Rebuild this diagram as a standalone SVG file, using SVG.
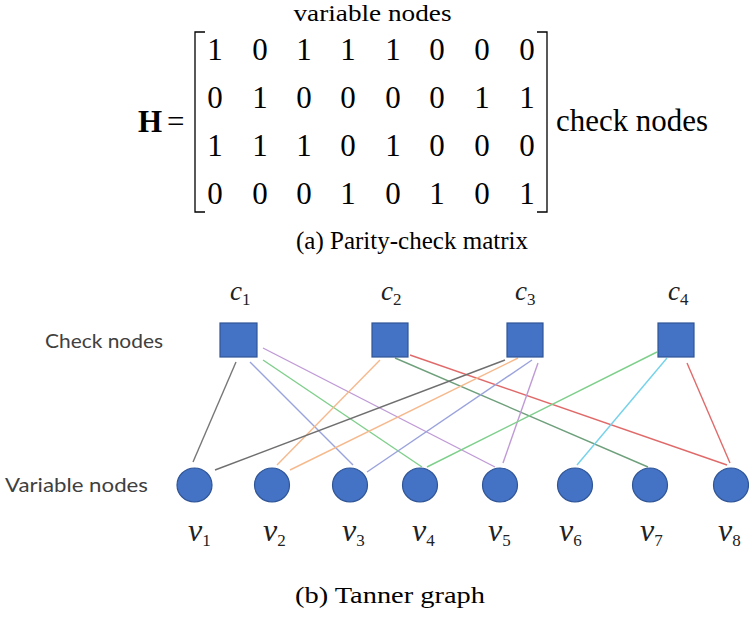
<svg xmlns="http://www.w3.org/2000/svg" width="749" height="619" viewBox="0 0 749 619">
<style>
.m{font-family:"Liberation Serif","Times New Roman",serif;fill:#000}
.d{font-size:31px;text-anchor:middle}
.br{fill:none;stroke:#000;stroke-width:1.3}
.lab{font-family:Lato,"Liberation Sans",sans-serif;font-size:20px;fill:#404040}
.sym{font-family:"Liberation Serif","DejaVu Serif",serif;font-style:italic;fill:#222}
.sub{font-style:normal;font-size:17px}
.cn{fill:#4472C4;stroke:#2F5597;stroke-width:1.2}
.e{stroke-width:1.4;fill:none}
</style>
<g id="matrix">
<text class="m" x="372.5" y="21" font-size="23" text-anchor="middle" textLength="158" lengthAdjust="spacingAndGlyphs">variable nodes</text>
<text class="m" x="138" y="132" font-size="31" font-weight="bold">H</text>
<text class="m" x="167" y="132" font-size="31">=</text>
<path class="br" d="M205,32 H195 V212 H205"/>
<path class="br" d="M537,32 H547 V212 H537"/>
<g class="m d">
<text x="215" y="60">1</text><text x="260" y="60">0</text><text x="304" y="60">1</text><text x="348" y="60">1</text><text x="393" y="60">1</text><text x="437" y="60">0</text><text x="482" y="60">0</text><text x="527" y="60">0</text>
<text x="215" y="108">0</text><text x="260" y="108">1</text><text x="304" y="108">0</text><text x="348" y="108">0</text><text x="393" y="108">0</text><text x="437" y="108">0</text><text x="482" y="108">1</text><text x="527" y="108">1</text>
<text x="215" y="156">1</text><text x="260" y="156">1</text><text x="304" y="156">1</text><text x="348" y="156">0</text><text x="393" y="156">1</text><text x="437" y="156">0</text><text x="482" y="156">0</text><text x="527" y="156">0</text>
<text x="215" y="204">0</text><text x="260" y="204">0</text><text x="304" y="204">0</text><text x="348" y="204">1</text><text x="393" y="204">0</text><text x="437" y="204">1</text><text x="482" y="204">0</text><text x="527" y="204">1</text>
</g>
<text class="m" x="556" y="131" font-size="31" textLength="152" lengthAdjust="spacingAndGlyphs">check nodes</text>
<text class="m" x="412" y="249" font-size="25" text-anchor="middle" textLength="232" lengthAdjust="spacingAndGlyphs">(a) Parity-check matrix</text>
</g>
<text class="lab" x="45" y="348" textLength="118" lengthAdjust="spacingAndGlyphs">Check nodes</text>
<text class="lab" x="5" y="492" textLength="143" lengthAdjust="spacingAndGlyphs">Variable nodes</text>
<g id="connectors">
<line class="e" stroke="#777777" x1="236" y1="362" x2="193" y2="462"/>
<line class="e" stroke="#9aa3dc" x1="250" y1="362" x2="353" y2="465"/>
<line class="e" stroke="#7fcf8c" x1="263" y1="360" x2="422" y2="467"/>
<line class="e" stroke="#bf9ad6" x1="263" y1="348" x2="495" y2="467"/>
<line class="e" stroke="#f6b98d" x1="380" y1="360" x2="277" y2="465"/>
<line class="e" stroke="#6fa07c" x1="395" y1="358" x2="648" y2="467"/>
<line class="e" stroke="#e06a6a" x1="410" y1="355" x2="727" y2="465"/>
<line class="e" stroke="#6f6f6f" x1="505" y1="360" x2="215" y2="470"/>
<line class="e" stroke="#f6b98d" x1="518" y1="358" x2="290" y2="470"/>
<line class="e" stroke="#9aa3dc" x1="532" y1="360" x2="367" y2="472"/>
<line class="e" stroke="#bf9ad6" x1="538" y1="363" x2="503" y2="463"/>
<line class="e" stroke="#7fcf8c" x1="657" y1="352" x2="427" y2="467"/>
<line class="e" stroke="#74d2ea" x1="667" y1="358" x2="577" y2="465"/>
<line class="e" stroke="#e06a6a" x1="687" y1="363" x2="730" y2="463"/>
</g>
<g id="c1"><rect class="cn" x="220" y="323" width="37" height="34"/><text class="sym" x="230" y="300" font-size="27">c<tspan class="sub" dy="5">1</tspan></text></g>
<g id="c2"><rect class="cn" x="372" y="323" width="36" height="34"/><text class="sym" x="381" y="300" font-size="27">c<tspan class="sub" dy="5">2</tspan></text></g>
<g id="c3"><rect class="cn" x="507" y="323" width="36" height="34"/><text class="sym" x="515" y="300" font-size="27">c<tspan class="sub" dy="5">3</tspan></text></g>
<g id="c4"><rect class="cn" x="658" y="323" width="36" height="34"/><text class="sym" x="668" y="300" font-size="27">c<tspan class="sub" dy="5">4</tspan></text></g>
<g id="v1"><ellipse class="cn" cx="194.5" cy="485" rx="17.5" ry="17"/><text class="sym" x="188" y="541" font-size="32">v<tspan class="sub" dy="5">1</tspan></text></g>
<g id="v2"><ellipse class="cn" cx="272" cy="485" rx="17.5" ry="17"/><text class="sym" x="263" y="541" font-size="32">v<tspan class="sub" dy="5">2</tspan></text></g>
<g id="v3"><ellipse class="cn" cx="350" cy="485" rx="17.5" ry="17"/><text class="sym" x="342" y="541" font-size="32">v<tspan class="sub" dy="5">3</tspan></text></g>
<g id="v4"><ellipse class="cn" cx="420" cy="485" rx="17.5" ry="17"/><text class="sym" x="412" y="541" font-size="32">v<tspan class="sub" dy="5">4</tspan></text></g>
<g id="v5"><ellipse class="cn" cx="500" cy="485" rx="17.5" ry="17"/><text class="sym" x="488" y="541" font-size="32">v<tspan class="sub" dy="5">5</tspan></text></g>
<g id="v6"><ellipse class="cn" cx="575" cy="485" rx="17.5" ry="17"/><text class="sym" x="559" y="541" font-size="32">v<tspan class="sub" dy="5">6</tspan></text></g>
<g id="v7"><ellipse class="cn" cx="650" cy="485" rx="17.5" ry="17"/><text class="sym" x="640" y="541" font-size="32">v<tspan class="sub" dy="5">7</tspan></text></g>
<g id="v8"><ellipse class="cn" cx="731" cy="485" rx="17.5" ry="17"/><text class="sym" x="718" y="541" font-size="32">v<tspan class="sub" dy="5">8</tspan></text></g>
<text class="m" x="295" y="603" font-size="24" fill="#222" textLength="190" lengthAdjust="spacingAndGlyphs">(b) Tanner graph</text>
</svg>
